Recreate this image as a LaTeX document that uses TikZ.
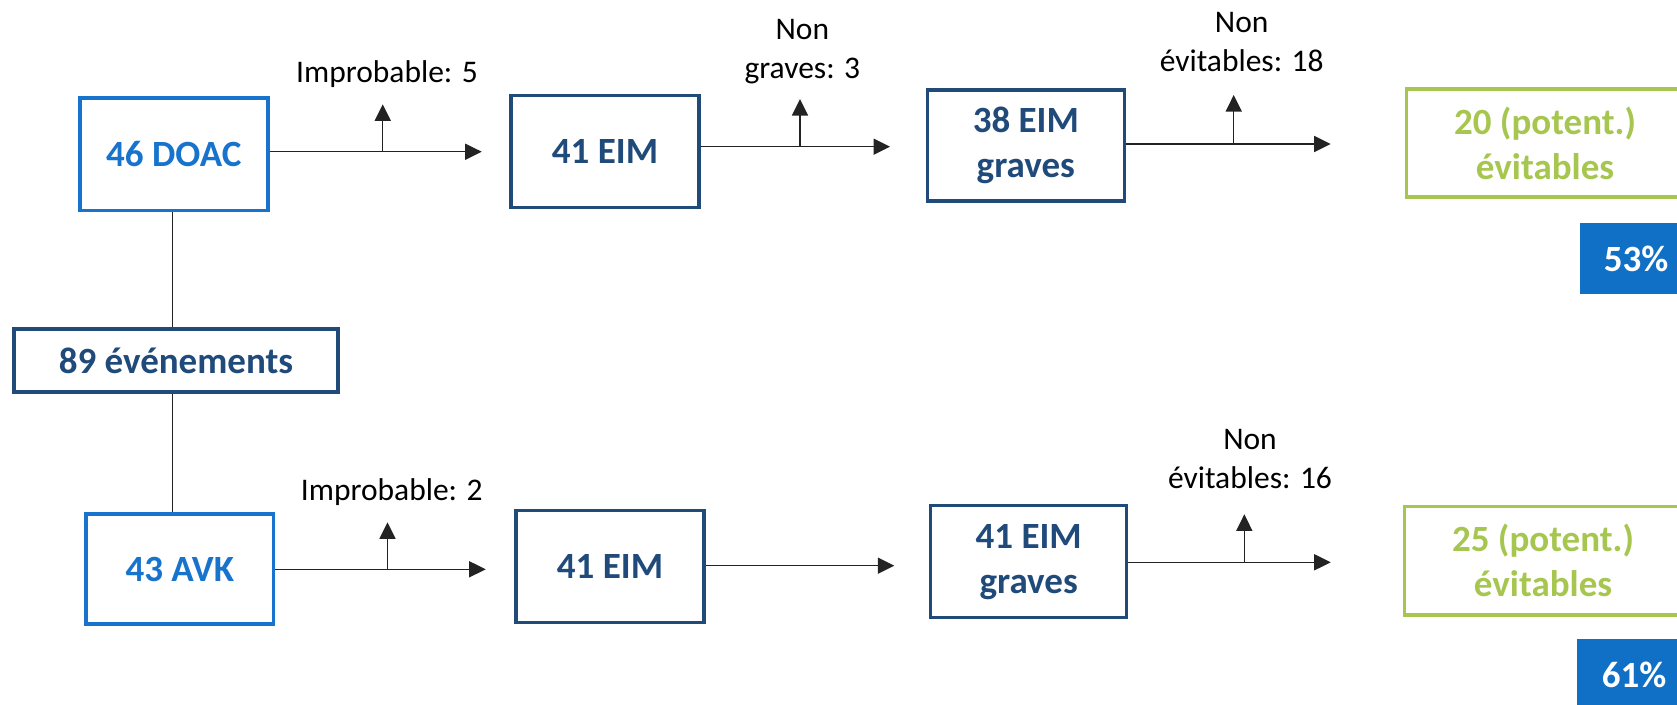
\documentclass[tikz,border=0pt]{standalone}
\usepackage{fontspec}
\setmainfont{Carlito}
\usetikzlibrary{arrows.meta}
\definecolor{bblue}{RGB}{23,115,204}
\definecolor{dblue}{RGB}{31,74,122}
\definecolor{lgreen}{RGB}{166,198,80}
\definecolor{pblue}{RGB}{16,112,198}
\definecolor{lgray}{RGB}{35,35,35}
\begin{document}
\begin{tikzpicture}[x=1pt,y=-1pt,
  box/.style={draw, line width=3.5pt, inner sep=0pt, align=center,
    font=\fontsize{37}{45}\selectfont\bfseries},
  bbox/.style={box, draw=bblue, text=bblue},
  dbox/.style={box, draw=dblue, text=dblue},
  gbox/.style={box, draw=lgreen, text=lgreen},
  pct/.style={fill=pblue, text=white, inner sep=0pt,
    font=\fontsize{37}{45}\selectfont\bfseries},
  lab/.style={align=center, font=\fontsize{31.5}{39}\selectfont, inner sep=0pt},
  arr/.style={draw=lgray, line width=1.5pt, -{Triangle[length=16.5pt,width=16pt]}},
  link/.style={draw=lgray, line width=1.1pt}]
\useasboundingbox (0,0) rectangle (1677,704);
% boxes
\node[bbox, minimum width=188pt, minimum height=112.5pt] (doac) at (173.8,154) {46 DOAC};
\node[dbox, minimum width=324pt, minimum height=62.6pt] (ev) at (176,360.5) {89 événements};
\node[bbox, minimum width=187.5pt, minimum height=110.4pt] (avk) at (179.8,569) {43 AVK};
\node[dbox, minimum width=188pt, minimum height=112pt] (eimA) at (605,151.5) {41 EIM};
\node[dbox, minimum width=197pt, minimum height=111pt] (grA) at (1025.8,145.3) {38 EIM\\graves};
\node[gbox, minimum width=277pt, minimum height=107.6pt] (evA) at (1545,143) {20 (potent.)\\évitables};
\node[pct, minimum width=112pt, minimum height=71pt] (pA) at (1636,258.8) {53\%};
\node[dbox, minimum width=188pt, minimum height=112pt] (eimB) at (610,566.5) {41 EIM};
\node[dbox, minimum width=196pt, minimum height=112pt] (grB) at (1028.7,561.7) {41 EIM\\graves};
\node[gbox, minimum width=277pt, minimum height=108.7pt] (evB) at (1543,560.8) {25 (potent.)\\évitables};
\node[pct, minimum width=114pt, minimum height=71pt] (pB) at (1634,674.5) {61\%};
% vertical links
\coordinate (vx) at (172.8,0);
\draw[link] (vx |- doac.south) -- (vx |- ev.north);
\draw[link] (vx |- ev.south) -- (vx |- avk.north);
% coordinates
\coordinate (tA1) at (481.7,151.7); \coordinate (bA1) at (382.7,151.7); \coordinate (uA1) at (382.7,104.3);
\coordinate (tA2) at (890,146.7);   \coordinate (bA2) at (800,146.7);   \coordinate (uA2) at (800,99);
\coordinate (tA3) at (1330.7,144);  \coordinate (bA3) at (1233.7,144);  \coordinate (uA3) at (1233.7,95);
\coordinate (tB1) at (485.7,569.3); \coordinate (bB1) at (387.5,569.3); \coordinate (uB1) at (387.5,522.3);
\coordinate (tB2) at (894.3,565.7);
\coordinate (tB3) at (1330.7,562.3); \coordinate (bB3) at (1244.3,562.3); \coordinate (uB3) at (1244.3,514.3);
% arrows
\draw[arr] (doac.east |- tA1) -- (tA1);
\draw[arr] (bA1) -- (uA1);
\draw[arr] (eimA.east |- tA2) -- (tA2);
\draw[arr] (bA2) -- (uA2);
\draw[arr] (grA.east |- tA3) -- (tA3);
\draw[arr] (bA3) -- (uA3);
\draw[arr] (avk.east |- tB1) -- (tB1);
\draw[arr] (bB1) -- (uB1);
\draw[arr] (eimB.east |- tB2) -- (tB2);
\draw[arr] (grB.east |- tB3) -- (tB3);
\draw[arr] (bB3) -- (uB3);
% labels (anchor base = baseline of last line)
\node[lab, anchor=base] (lA1) at (387,82.7) {Improbable: 5};
\node[lab, anchor=base] (lA2) at (802.3,78.3) {Non\\graves: 3};
\node[lab, anchor=base] (lA3) at (1241.7,71) {Non\\évitables: 18};
\node[lab, anchor=base] (lB1) at (391.8,500) {Improbable: 2};
\node[lab, anchor=base] (lB3) at (1250,488.3) {Non\\évitables: 16};
\end{tikzpicture}
\end{document}
